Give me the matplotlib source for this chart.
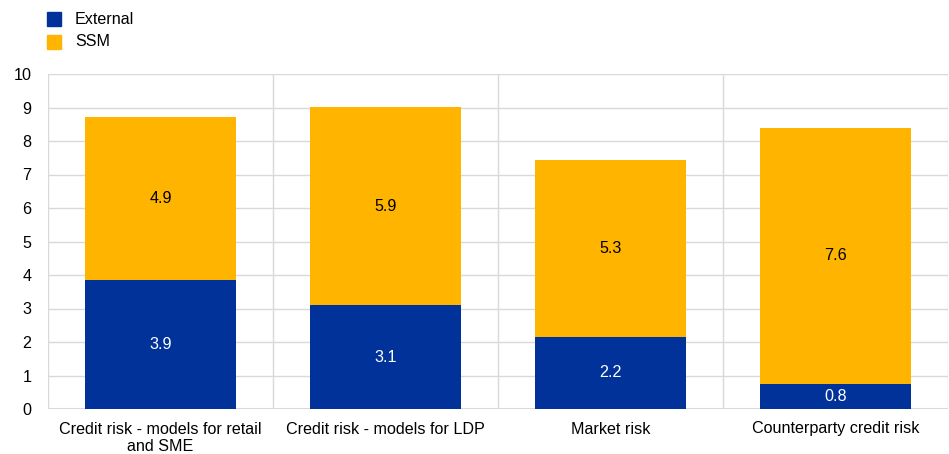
import matplotlib
matplotlib.use("Agg")
import matplotlib.pyplot as plt
from matplotlib.patches import Rectangle

categories = ["Credit risk - models for retail\nand SME", "Credit risk - models for LDP",
              "Market risk", "Counterparty credit risk"]
external = [3.86, 3.10, 2.16, 0.76]
ssm = [4.87, 5.91, 5.27, 7.63]
series_names = ["External", "SSM"]
yticks = list(range(0, 11))

plt.rcParams['font.family'] = ['Liberation Sans', 'DejaVu Sans']
BLUE = "#003299"
YELLOW = "#FFB400"
GRID = "#d9d9d9"
FS = 11.6

W, H = 949, 454
fig = plt.figure(figsize=(W/100, H/100), dpi=100)
ax = fig.add_axes([48/W, 1-409/H, 900/W, (409-74)/H])

x = list(range(len(categories)))
bw = 0.67
ax.bar(x, external, bw, color=BLUE, zorder=3)
ax.bar(x, ssm, bw, bottom=external, color=YELLOW, zorder=3)
for i in x:
    ax.text(i, external[i]/2, f"{external[i]:.1f}", ha="center", va="center",
            color="white", fontsize=FS, zorder=4)
    ax.text(i, external[i] + ssm[i]/2, f"{ssm[i]:.1f}", ha="center", va="center",
            color="black", fontsize=FS, zorder=4)

ax.set_xlim(-0.5, len(categories)-0.5)
ax.set_ylim(0, 10)
ax.set_yticks(yticks)
ax.set_yticklabels([str(t) for t in yticks], fontsize=FS)
ax.set_xticks(x)
ax.set_xticklabels(categories, fontsize=FS, linespacing=1.2)
ax.tick_params(length=0, pad=9)
ax.tick_params(axis='y', pad=12)
ax.yaxis.grid(True, color=GRID, lw=1, zorder=0)
for b in [i - 0.5 for i in range(len(categories)+1)]:
    ax.axvline(b, color=GRID, lw=1, zorder=0)
for s in ax.spines.values():
    s.set_visible(False)
ax.axhline(0, color=GRID, lw=1.5, zorder=2)

# legend
for j, (name, col) in enumerate(zip(series_names, [BLUE, YELLOW])):
    y0 = 12 + j*23
    fig.patches.append(Rectangle((47/W, 1-(y0+14)/H), 14/W, 14/H,
                                 transform=fig.transFigure, color=col))
    fig.text(75/W, 1-(y0+7)/H, name, va="center", ha="left", fontsize=FS)

fig.savefig("out.png", dpi=100)
